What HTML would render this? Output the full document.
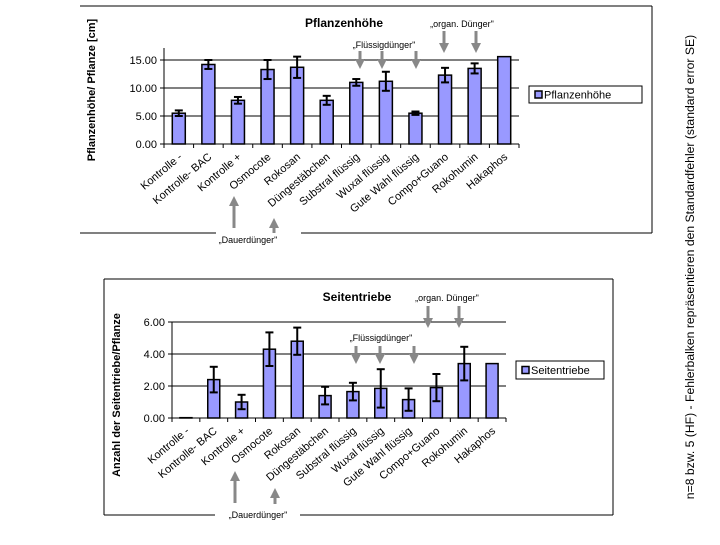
<!DOCTYPE html>
<html><head><meta charset="utf-8"><style>
body{margin:0;background:#fff;width:720px;height:540px;overflow:hidden;font-family:"Liberation Sans",Arial,sans-serif}
svg text{font-family:"Liberation Sans",Arial,sans-serif}
</style></head><body>
<svg id="svg" width="720" height="540">
<defs><marker id="ah" markerUnits="userSpaceOnUse" markerWidth="10" markerHeight="10" refX="5" refY="5" orient="auto"><path d="M0,0 L10,5 L0,10 z" fill="#888"/></marker></defs>
</svg>
<script>
const categories=["Kontrolle -","Kontrolle- BAC","Kontrolle +","Osmocote","Rokosan","Düngestäbchen","Substral flüssig","Wuxal flüssig","Gute Wahl flüssig","Compo+Guano","Rokohumin","Hakaphos"];
const heightValues=[5.5,14.2,7.8,13.3,13.7,7.8,11.0,11.2,5.5,12.3,13.5,15.6];
const heightErrors=[0.5,0.8,0.6,1.7,1.9,0.8,0.6,1.7,0.3,1.3,0.9,0];
const heightTicks=[0,5,10,15];
const shootValues=[0.02,2.4,1.0,4.3,4.8,1.4,1.65,1.85,1.15,1.9,3.4,3.4];
const shootErrors=[0,0.8,0.45,1.05,0.85,0.55,0.55,1.2,0.7,0.85,1.05,0];
const shootTicks=[0,2,4,6];
const NS="http://www.w3.org/2000/svg";
const svg=document.getElementById('svg');
function el(t,a,p){const e=document.createElementNS(NS,t);for(const k in a)e.setAttribute(k,a[k]);(p||svg).appendChild(e);return e;}
function txt(s,a,p){const e=el('text',a,p);e.textContent=s;return e;}
function line(x1,y1,x2,y2,c,w){return el('line',{x1,y1,x2,y2,stroke:c||'#000','stroke-width':w||1});}
function arrow(x,y1,y2){const d=y2>y1?-6:6;const l=line(x,y1,x,y2+d,'#888',3);l.setAttribute('marker-end','url(#ah)');}
function chart(o){
  const g=el('g',{});
  
  
  const {x0,x1,y0,yTop,vmax}=o;
  const ys=v=>y0-(v/vmax)*(y0-o.yMax);
  const bw=(x1-x0)/categories.length;
  o.ticks.forEach(t=>{
    if(t>0){const gl=line(x0,ys(t),x1,ys(t),'#000',1);g.appendChild(gl);}
    const tl=txt(t.toFixed(2),{x:x0-7,y:ys(t)+4,'text-anchor':'end','font-size':11},g);
    
    g.appendChild(line(x0-4,ys(t),x0,ys(t)));
  });
  g.appendChild(line(x0,yTop,x0,y0));
  g.appendChild(line(x0,y0,x1,y0));
  for(let i=0;i<=categories.length;i++){g.appendChild(line(x0+i*bw,y0,x0+i*bw,y0+4));}
  categories.forEach((c,i)=>{
    const cx=x0+(i+0.5)*bw, v=o.values[i], e=o.errors[i], w=o.bwid;
    const b=el('rect',{x:cx-w/2,y:ys(v),width:w,height:y0-ys(v),fill:'#9999ff',stroke:'#000','stroke-width':1.5},g);
    
    if(e>0){
      const eg=el('g',{},g);
      
      eg.appendChild(line(cx,ys(v+e),cx,ys(v-e),'#000',2));
      eg.appendChild(line(cx-4,ys(v+e),cx+4,ys(v+e),'#000',2));
      eg.appendChild(line(cx-4,ys(v-e),cx+4,ys(v-e),'#000',2));
    }
    const l=txt(c,{x:cx+4,y:y0+14,'text-anchor':'end','font-size':11,transform:`rotate(-40 ${cx+4} ${y0+14})`},g);
    
  });
  const t=txt(o.title,{x:o.titleX,y:o.titleY,'text-anchor':'middle','font-size':12,'font-weight':'bold'},g);
  
  const yt=txt(o.yTitle,{x:o.yTitleX,y:o.yTitleY,'text-anchor':'middle','font-size':11,'font-weight':'bold',transform:`rotate(-90 ${o.yTitleX} ${o.yTitleY})`},g);
  
  const lg=el('g',{},g);
  
  el('rect',{x:o.lx,y:o.ly,width:o.lw,height:o.lh,fill:'#fff',stroke:'#000'},lg);
  el('rect',{x:o.lx+6,y:o.ly+o.lh/2-3.5,width:7,height:7,fill:'#9999ff',stroke:'#000','stroke-width':1.5},lg);
  txt(o.title,{x:o.lx+15,y:o.ly+o.lh/2+4,'font-size':11},lg);
}
chart({name:'plant-height-chart',x0:164,x1:519,y0:144,yMax:60,vmax:15,yTop:48,bwid:13,values:heightValues,errors:heightErrors,ticks:heightTicks,title:'Pflanzenhöhe',titleX:344,titleY:27,yTitle:'Pflanzenhöhe/ Pflanze [cm]',yTitleX:95,yTitleY:90,lx:529,ly:86,lw:113,lh:17});
chart({name:'side-shoots-chart',x0:172,x1:506,y0:418,yMax:322,vmax:6,yTop:322,bwid:12,values:shootValues,errors:shootErrors,ticks:shootTicks,title:'Seitentriebe',titleX:357,titleY:301,yTitle:'Anzahl der Seitentriebe/Pflanze',yTitleX:120,yTitleY:395,lx:516,ly:361,lw:88,lh:18});
// frames
line(80,6,652,6);line(652,6,652,233);line(80,233,216,233);line(301,233,652,233);
line(104,279,613,279);line(104,279,104,515);line(613,279,613,515);line(104,515,215,515);line(300,515,613,515);
// annotations
[['„Flüssigdünger"',384,48],['„organ. Dünger"',462,27],['„Dauerdünger"',248,243],['„Flüssigdünger"',381,341],['„organ. Dünger"',447,301],['„Dauerdünger"',258,518]].forEach(a=>{
  const t=txt(a[0],{x:a[1],y:a[2],'text-anchor':'middle','font-size':9});
  
});
arrow(360,51,70);arrow(382,51,70);arrow(416,51,70);
arrow(444,31,54);arrow(476,31,54);
arrow(234,228,195);arrow(274,233,217);
arrow(356,346,365);arrow(380,346,365);arrow(414,346,365);
arrow(428,306,329);arrow(459,306,329);
arrow(235,503,470);arrow(275,504,487);
const note=txt('n=8  bzw. 5 (HF) - Fehlerbalken repräsentieren den Standardfehler (standard error SE)',{x:694,y:267,'text-anchor':'middle','font-size':12.2,transform:'rotate(-90 694 267)'});

</script>
</body></html>
